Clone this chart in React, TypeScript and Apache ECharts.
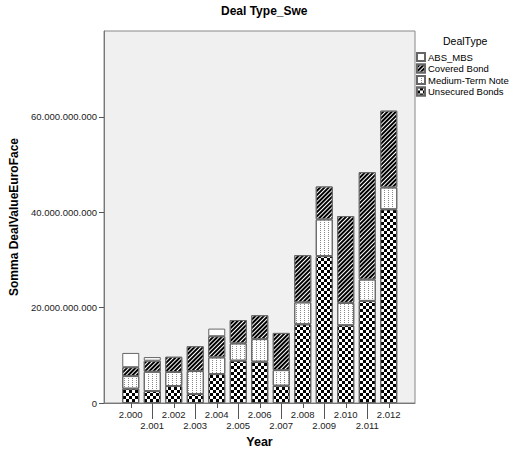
import React, { useEffect, useRef } from 'react';
import * as echarts from 'echarts';

// Category labels (years, European thousands format as in the source)
const years = ['2.000', '2.001', '2.002', '2.003', '2.004', '2.005', '2.006', '2.007', '2.008', '2.009', '2.010', '2.011', '2.012'];

// Segment values in euros
const unsecuredBonds = [3.0e9, 2.5e9, 3.56e9, 1.88e9, 6.07e9, 8.87e9, 8.66e9, 3.63e9, 16.5e9, 30.8e9, 16.3e9, 21.4e9, 40.6e9];
const mediumTermNote = [2.65e9, 4.06e9, 2.94e9, 4.82e9, 3.5e9, 3.63e9, 4.74e9, 3.27e9, 4.6e9, 7.7e9, 4.7e9, 4.5e9, 4.6e9];
const coveredBond = [1.85e9, 2.31e9, 3.2e9, 5.2e9, 4.43e9, 4.9e9, 5.0e9, 7.8e9, 9.9e9, 6.9e9, 18.2e9, 22.5e9, 16.1e9];
const absMbs = [3.0e9, 0.76e9, null, null, 1.6e9, null, null, null, null, null, null, null, null];

const yTicks = [0, 20e9, 40e9, 60e9];
const yMax = 78e9;

const legendOrder = ['ABS_MBS', 'Covered Bond', 'Medium-Term Note', 'Unsecured Bonds'];

const font = 'Liberation Sans, Arial, Helvetica, sans-serif';

function fmt(v: number): string {
  return String(Math.round(v)).replace(/\B(?=(\d{3})+(?!\d))/g, '.');
}

export default function App() {
  const ref = useRef<HTMLDivElement>(null);
  useEffect(() => {
    document.body.style.margin = '0';
    const chart = echarts.init(ref.current!, null, { renderer: 'svg' });

    const checker = {
      symbol: 'rect', symbolSize: 1, symbolKeepAspect: false, color: '#000',
      dashArrayX: [[3, 3], [0, 3, 3, 0]], dashArrayY: [3, 0], rotation: 0,
    };
    const stripes = {
      symbol: 'rect', symbolSize: 1, symbolKeepAspect: false, color: '#fff',
      dashArrayX: [5, 0], dashArrayY: [1, 2], rotation: -Math.PI / 4,
    };
    const dots = {
      symbol: 'rect', symbolSize: 1, symbolKeepAspect: false, color: '#888',
      dashArrayX: [1, 3], dashArrayY: [1, 1], rotation: 0,
    };

    const bar = (name: string, data: any[], color: string, decal: any) => ({
      name, type: 'bar', stack: 'total', xAxisIndex: 1, yAxisIndex: 1, barWidth: 17, data,
      itemStyle: { color, borderColor: '#666', borderWidth: 1, ...(decal ? { decal } : {}) },
    });

    const labelStyle = { fontFamily: font, fontSize: 9.5, color: '#222' };
    const gridTop = 31, gridH = 372;

    chart.setOption({
      animation: false,
      backgroundColor: '#fff',
      title: [
        { text: 'Deal Type_Swe', left: 216, top: 0, textStyle: { fontFamily: font, fontSize: 12, fontWeight: 'bold', color: '#000' } },
        { text: 'DealType', left: 438, top: 30, textStyle: { fontFamily: font, fontSize: 10.5, fontWeight: 'normal', color: '#000' } },
      ],
      legend: {
        orient: 'vertical', left: 416, top: 52, itemWidth: 8, itemHeight: 8, itemGap: 1.5, icon: 'rect',
        padding: 0, selectedMode: false, data: legendOrder,
        textStyle: { fontFamily: font, fontSize: 9.5, color: '#000', padding: [0, 0, 0, -2] },
      },
      grid: [
        { left: 104, top: gridTop, width: 311, height: gridH, show: true, backgroundColor: '#f0f0f0', borderColor: '#888', borderWidth: 1 },
        { left: 120, top: gridTop, width: 279.5, height: gridH },
        { left: 120, top: gridTop, width: 279.5, height: gridH },
      ],
      xAxis: [
        {
          gridIndex: 0, type: 'category', data: [''],
          axisLine: { show: true, lineStyle: { color: '#777' } }, axisTick: { show: false }, axisLabel: { show: false },
          name: 'Year', nameLocation: 'middle', nameGap: 32,
          nameTextStyle: { fontFamily: font, fontSize: 12.5, fontWeight: 'bold', color: '#000' },
        },
        {
          gridIndex: 1, type: 'category', data: years, axisLine: { show: false },
          axisTick: { show: true, alignWithLabel: true, length: 5, interval: (i: number) => i % 2 === 0, lineStyle: { color: '#555' } },
          axisLabel: { interval: (i: number) => i % 2 === 0, margin: 6, ...labelStyle },
        },
        {
          gridIndex: 2, type: 'category', data: years, axisLine: { show: false },
          axisTick: { show: true, alignWithLabel: true, length: 16, interval: (i: number) => i % 2 === 1, lineStyle: { color: '#555' } },
          axisLabel: { interval: (i: number) => i % 2 === 1, margin: 17, ...labelStyle },
        },
      ],
      yAxis: [
        {
          gridIndex: 0, type: 'value', min: 0, max: yMax,
          axisLine: { show: true, lineStyle: { color: '#777' } },
          axisTick: { show: true, length: 5, customValues: yTicks, lineStyle: { color: '#555' } },
          axisLabel: { customValues: yTicks, formatter: (v: number) => fmt(v), margin: 7, ...labelStyle },
          splitLine: { show: false },
          name: 'Somma DealValueEuroFace', nameLocation: 'middle', nameGap: 79, nameRotate: 90,
          nameTextStyle: { fontFamily: font, fontSize: 12, fontWeight: 'bold', color: '#000' },
        },
        { gridIndex: 1, type: 'value', min: 0, max: yMax, show: false },
        { gridIndex: 2, type: 'value', min: 0, max: yMax, show: false },
      ],
      series: [
        bar('Unsecured Bonds', unsecuredBonds, '#fff', checker),
        bar('Medium-Term Note', mediumTermNote, '#fff', dots),
        bar('Covered Bond', coveredBond, '#000', stripes),
        bar('ABS_MBS', absMbs, '#fff', null),
      ],
    });

    return () => chart.dispose();
  }, []);
  return <div ref={ref} style={{ width: 512, height: 456 }} />;
}
